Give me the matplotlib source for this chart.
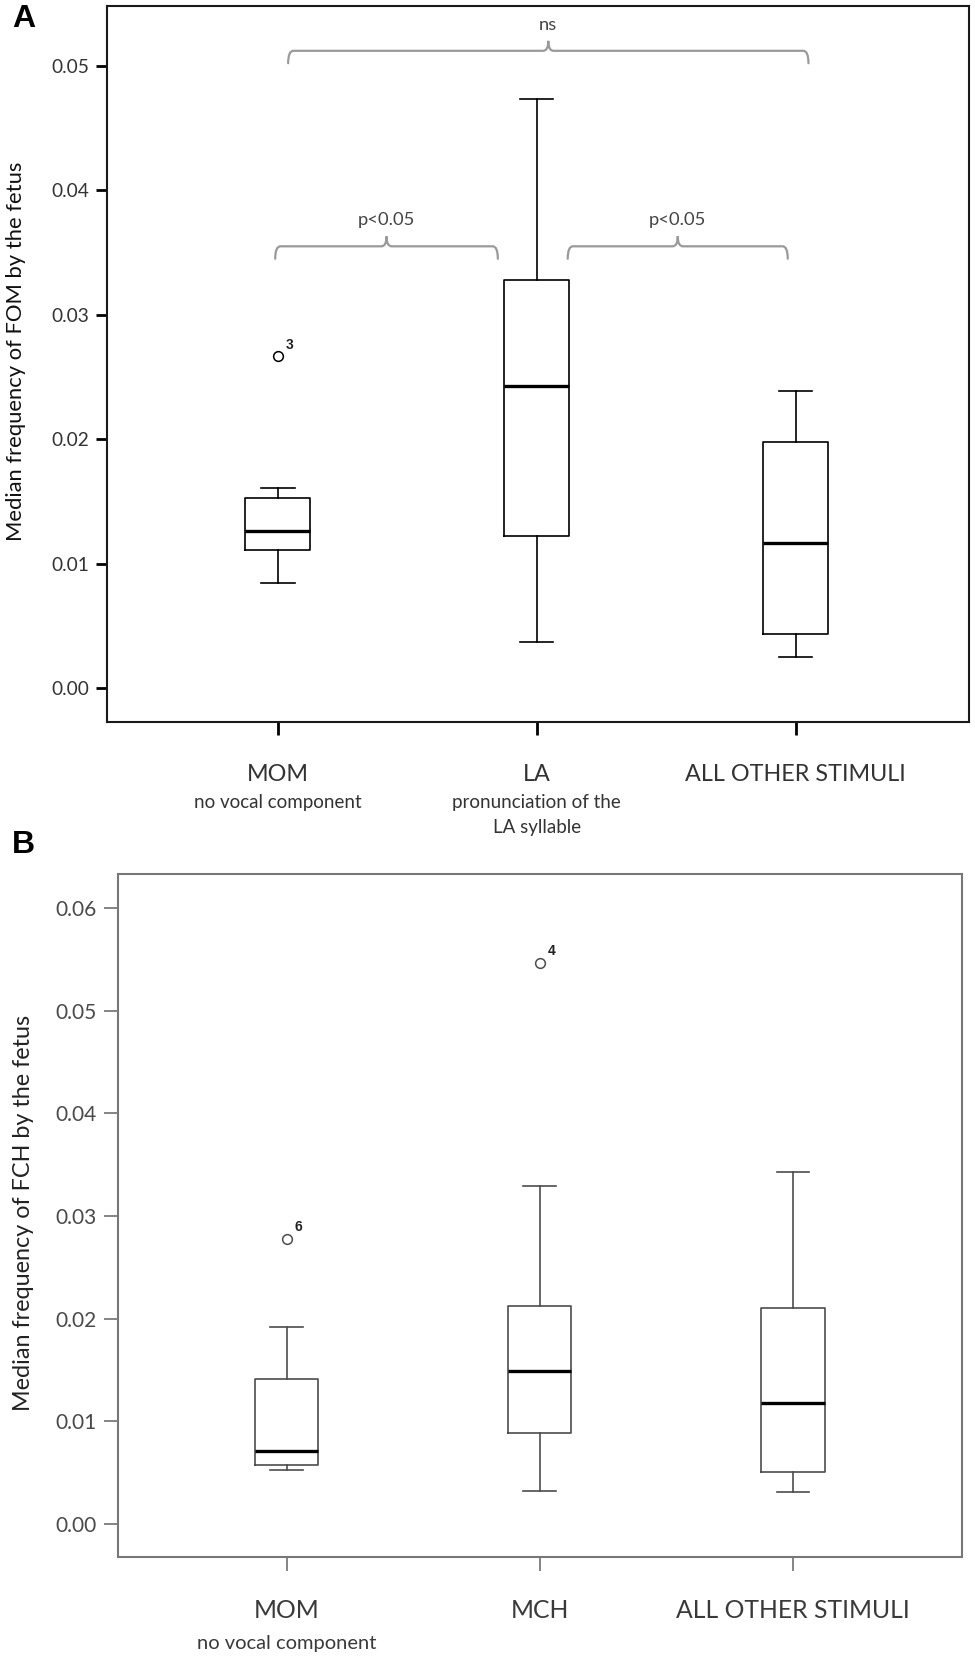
import matplotlib
matplotlib.use('Agg')
import matplotlib.pyplot as plt
from matplotlib.path import Path
from matplotlib.patches import PathPatch

# panel A - FOM
a_groups = ['MOM', 'LA', 'ALL OTHER STIMULI']
a_notes = ['no vocal component', 'pronunciation of the\nLA syllable', '']
a_whislo = [0.0085, 0.0037, 0.0025]
a_q1 = [0.0111, 0.0122, 0.0044]
a_med = [0.0126, 0.0243, 0.0117]
a_q3 = [0.0153, 0.0328, 0.0198]
a_whishi = [0.0161, 0.0473, 0.0239]
a_fliers = [[0.0267], [], []]
a_flier_ids = [['3'], [], []]
a_yticks = [0.00, 0.01, 0.02, 0.03, 0.04, 0.05]
# (from, to, height, text)
a_brackets = [(0.04, 2.05, 0.0512, 'ns'),
              (-0.01, 0.85, 0.0355, 'p<0.05'),
              (1.12, 1.97, 0.0355, 'p<0.05')]

# panel B - FCH
b_groups = ['MOM', 'MCH', 'ALL OTHER STIMULI']
b_notes = ['no vocal component', '', '']
b_whislo = [0.0052, 0.0032, 0.0031]
b_q1 = [0.0057, 0.0088, 0.0050]
b_med = [0.0071, 0.0149, 0.0118]
b_q3 = [0.0141, 0.0212, 0.0210]
b_whishi = [0.0192, 0.0329, 0.0343]
b_fliers = [[0.0278], [0.0547], []]
b_flier_ids = [['6'], ['4'], []]
b_yticks = [0.00, 0.01, 0.02, 0.03, 0.04, 0.05, 0.06]

plt.rcParams['font.family'] = ['Lato', 'DejaVu Sans']


def draw_boxes(ax, lo, q1, med, q3, hi, fliers, ids, line_col):
    stats = []
    for i in range(len(med)):
        stats.append({'whislo': lo[i], 'q1': q1[i], 'med': med[i],
                      'q3': q3[i], 'whishi': hi[i], 'fliers': fliers[i]})
    pos = list(range(len(stats)))
    ax.bxp(stats, positions=pos, widths=0.25, capwidths=0.13, showfliers=True,
           boxprops=dict(color=line_col, linewidth=1.2),
           whiskerprops=dict(color=line_col, linewidth=1.2),
           capprops=dict(color=line_col, linewidth=1.2),
           medianprops=dict(color='black', linewidth=2.4),
           flierprops=dict(marker='o', markerfacecolor='none',
                           markeredgecolor=line_col, markersize=7,
                           markeredgewidth=1.1))
    for i in pos:
        for v, lab in zip(fliers[i], ids[i]):
            ax.annotate(lab, xy=(i, v), xytext=(8.5, 8), textcoords='offset points',
                        ha='center', va='center', fontsize=10, fontweight='bold',
                        family='Liberation Sans', color='#222222')


def draw_bracket(ax, x0, x1, y, text, col='#9a9a9a'):
    drop = 0.0010
    notch = 0.0008
    rx = 0.02
    xm = (x0 + x1) / 2
    verts = [(x0, y - drop), (x0, y), (x0 + rx, y),
             (xm - rx, y), (xm, y), (xm, y + notch),
             (xm, y), (xm + rx, y),
             (x1 - rx, y), (x1, y), (x1, y - drop)]
    codes = [Path.MOVETO, Path.CURVE3, Path.CURVE3,
             Path.LINETO, Path.CURVE3, Path.CURVE3,
             Path.CURVE3, Path.CURVE3,
             Path.LINETO, Path.CURVE3, Path.CURVE3]
    ax.add_patch(PathPatch(Path(verts, codes), facecolor='none', edgecolor=col,
                           linewidth=1.6, capstyle='round'))
    ax.text(xm, y + 0.0021, text, ha='center', va='center', fontsize=13.2,
            color='#444444')


def label_groups(ax, groups, notes, off_main, off_note, col, size_main, size_note):
    for i, (g, n) in enumerate(zip(groups, notes)):
        ax.annotate(g, xy=(i, 0), xycoords=('data', 'axes fraction'),
                    xytext=(0, -off_main), textcoords='offset points',
                    ha='center', va='center', fontsize=size_main, color=col)
        if n:
            ax.annotate(n, xy=(i, 0), xycoords=('data', 'axes fraction'),
                        xytext=(0, -off_note), textcoords='offset points',
                        ha='center', va='top', fontsize=size_note, color=col,
                        linespacing=1.6)


fig = plt.figure(figsize=(9.75, 16.59), dpi=100)

# ---- panel A ----
axA = fig.add_axes([0.1097, 0.5648, 0.8841, 0.4316])
draw_boxes(axA, a_whislo, a_q1, a_med, a_q3, a_whishi, a_fliers, a_flier_ids, 'black')
for b in a_brackets:
    draw_bracket(axA, *b)
axA.set_xlim(-0.66, 2.67)
axA.set_ylim(-0.0027, 0.0548)
axA.set_yticks(a_yticks)
axA.set_yticklabels(['%.2f' % t for t in a_yticks])
axA.set_xticks(range(3))
axA.set_xticklabels([])
axA.tick_params(axis='both', direction='out', color='black', width=2)
axA.tick_params(axis='y', length=8, labelsize=13.8, labelcolor='#333333', pad=5)
axA.tick_params(axis='x', length=9)
for s in axA.spines.values():
    s.set_linewidth(1.5)
    s.set_color('#1a1a1a')
label_groups(axA, a_groups, a_notes, 38, 51.5, '#333333', 16.8, 13.5)
fig.text(16 / 975, 1 - 351 / 1659, 'Median frequency of FOM by the fetus', rotation=90,
         ha='center', va='center', fontsize=15.8, color='#111111')
fig.text(12 / 975, 1 - 19 / 1659, 'A', fontsize=23, fontweight='bold',
         family='Liberation Sans', ha='left', va='center')

# ---- panel B ----
axB = fig.add_axes([0.1207, 0.0613, 0.8656, 0.4117])
draw_boxes(axB, b_whislo, b_q1, b_med, b_q3, b_whishi, b_fliers, b_flier_ids, '#4d4d4d')
axB.set_xlim(-0.667, 2.666)
axB.set_ylim(-0.00328, 0.06331)
axB.set_yticks(b_yticks)
axB.set_yticklabels(['%.2f' % t for t in b_yticks])
axB.set_xticks(range(3))
axB.set_xticklabels([])
axB.tick_params(axis='both', direction='out', color='#707070', width=1.2, length=10)
axB.tick_params(axis='y', labelsize=15, labelcolor='#4a4a4a', pad=5)
for s in axB.spines.values():
    s.set_linewidth(1.5)
    s.set_color('#777777')
label_groups(axB, b_groups, b_notes, 38.5, 56, '#3a3a3a', 17.8, 14.5)
fig.text(24 / 975, 1 - 1213 / 1659, 'Median frequency of FCH by the fetus', rotation=90,
         ha='center', va='center', fontsize=16.8, color='#222222')
fig.text(12 / 975, 1 - 845 / 1659, 'B', fontsize=23, fontweight='bold',
         family='Liberation Sans', ha='left', va='center')

fig.savefig('out.png', dpi=100)
